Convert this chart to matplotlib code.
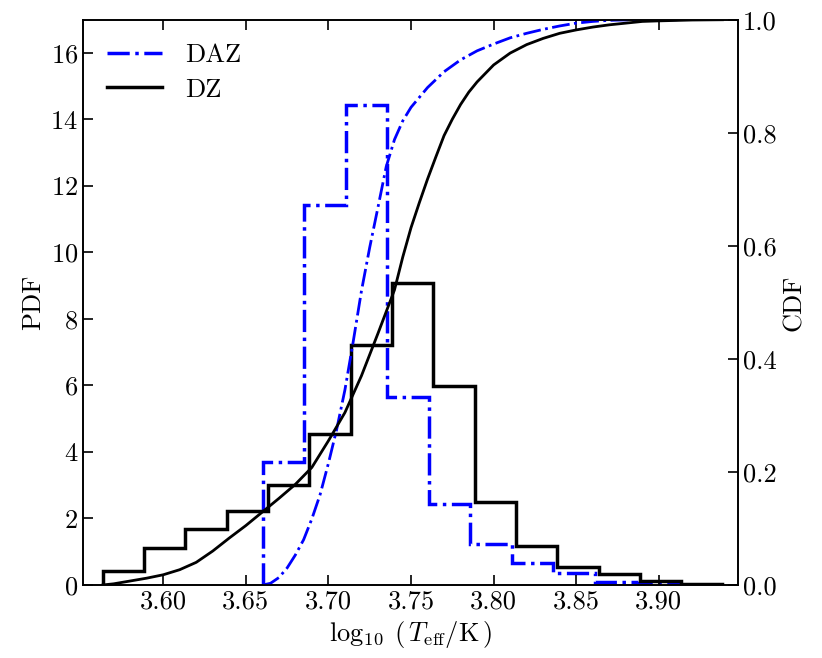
import numpy as np
import matplotlib
matplotlib.use('Agg')
import matplotlib.pyplot as plt

plt.rcParams['font.family'] = 'cmr10'
plt.rcParams['mathtext.fontset'] = 'cm'
plt.rcParams['axes.formatter.use_mathtext'] = True
plt.rcParams['font.size'] = 19

# histogram bin edges and PDF heights
dz_edges = [3.5635, 3.5885, 3.6135, 3.6385, 3.6635, 3.6885, 3.7135, 3.7385,
            3.7635, 3.7885, 3.8135, 3.8385, 3.8635, 3.8885, 3.9135, 3.9385]
dz_pdf = [0.43, 1.10, 1.67, 2.22, 3.00, 4.55, 7.23, 9.09,
          5.97, 2.50, 1.18, 0.53, 0.33, 0.11, 0.02]

daz_edges = [3.6604, 3.6855, 3.7106, 3.7357, 3.7608, 3.7859,
             3.8110, 3.8360, 3.8611, 3.8862, 3.9113]
daz_pdf = [3.70, 11.43, 14.44, 5.64, 2.45, 1.22, 0.65, 0.37, 0.10, 0.05]

# CDF curves
dz_cdf_x = [3.5635, 3.570, 3.580, 3.590, 3.600, 3.610, 3.620, 3.630, 3.640,
            3.650, 3.660, 3.670, 3.680, 3.690, 3.700, 3.710, 3.720, 3.730,
            3.740, 3.745, 3.750, 3.755, 3.760, 3.765, 3.770, 3.775, 3.780,
            3.785, 3.790, 3.800, 3.810, 3.820, 3.830, 3.840, 3.850, 3.860,
            3.870, 3.880, 3.890, 3.900, 3.920, 3.9385]
dz_cdf = [0.0, 0.002, 0.007, 0.012, 0.018, 0.027, 0.040, 0.060, 0.083,
          0.105, 0.129, 0.153, 0.178, 0.208, 0.255, 0.305, 0.370, 0.445,
          0.522, 0.580, 0.632, 0.676, 0.718, 0.757, 0.795, 0.824, 0.850,
          0.872, 0.890, 0.920, 0.941, 0.956, 0.967, 0.976, 0.982, 0.987,
          0.991, 0.994, 0.997, 0.998, 0.9995, 1.0]

daz_cdf_x = [3.6604, 3.665, 3.670, 3.675, 3.680, 3.685, 3.690, 3.695, 3.700,
             3.705, 3.710, 3.715, 3.720, 3.725, 3.730, 3.735, 3.740, 3.745,
             3.750, 3.760, 3.770, 3.780, 3.790, 3.800, 3.810, 3.820, 3.830,
             3.840, 3.850, 3.860, 3.870, 3.885, 3.9113]
daz_cdf = [0.0, 0.003, 0.013, 0.030, 0.053, 0.080, 0.117, 0.160, 0.215,
           0.275, 0.345, 0.430, 0.520, 0.597, 0.668, 0.740, 0.788, 0.821,
           0.845, 0.880, 0.908, 0.929, 0.945, 0.957, 0.968, 0.976, 0.983,
           0.989, 0.994, 0.997, 0.999, 1.0, 1.0]

fig = plt.figure(figsize=(8.22, 6.58), dpi=100)
ax = fig.add_axes([0.101, 0.111, 0.797, 0.859])
ax2 = ax.twinx()

ax.stairs(daz_pdf, daz_edges, color='blue', ls='-.', lw=2.5, label='DAZ')
ax.stairs(dz_pdf, dz_edges, color='black', ls='-', lw=2.5, label='DZ')

ax2.plot(daz_cdf_x, daz_cdf, color='blue', ls='-.', lw=2.0)
ax2.plot(dz_cdf_x, dz_cdf, color='black', ls='-', lw=2.0)

ax.set_xlim(3.5515, 3.948)
ax.set_ylim(0, 17)
ax2.set_ylim(0, 1)
ax.set_xticks([3.60, 3.65, 3.70, 3.75, 3.80, 3.85, 3.90])
ax.set_yticks([0, 2, 4, 6, 8, 10, 12, 14, 16])
ax2.set_yticks([0.0, 0.2, 0.4, 0.6, 0.8, 1.0])
ax.xaxis.set_major_formatter(matplotlib.ticker.FormatStrFormatter('%.2f'))
ax2.yaxis.set_major_formatter(matplotlib.ticker.FormatStrFormatter('%.1f'))

ax.tick_params(axis='x', direction='in', top=True, length=7, width=1.2)
ax.tick_params(axis='y', direction='in', length=7, width=1.2)
ax2.tick_params(axis='y', direction='in', length=7, width=1.2)
for a in (ax, ax2):
    for s in a.spines.values():
        s.set_linewidth(1.2)

ax.set_xlabel(r'$\log_{10}\;(\,T_{\rm eff}/{\rm K}\,)$')
ax.set_ylabel('PDF')
ax2.set_ylabel('CDF')

h, l = ax.get_legend_handles_labels()
handles = [plt.Line2D([], [], color='blue', ls='-.', lw=2.5),
           plt.Line2D([], [], color='black', ls='-', lw=2.5)]
ax2.legend(handles, l, loc='upper left', frameon=False, handlelength=2.1,
           handletextpad=0.85, labelspacing=0.4)

fig.savefig('out.png', dpi=100)
